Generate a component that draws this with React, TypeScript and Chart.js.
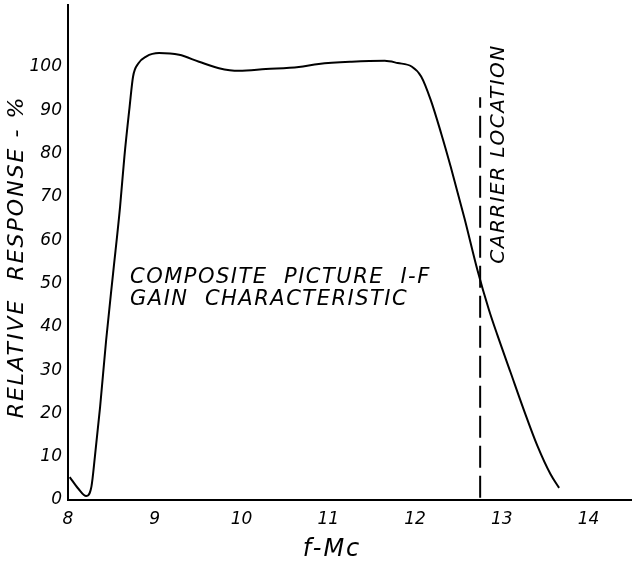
import React, { useEffect, useRef } from "react";
import { Chart, registerables } from "chart.js";

Chart.register(...registerables);

// Composite picture I-F gain characteristic (frequency in Mc, relative response in %)
const freqMc: number[] = [
  8.02, 8.12, 8.21, 8.27, 8.31, 8.37, 8.44, 8.52, 8.6, 8.65, 8.71, 8.75, 8.81,
  8.9, 9.05, 9.28, 9.51, 9.74, 9.97, 10.28, 10.66, 10.89, 11.27, 11.65, 11.8,
  11.96, 12.07, 12.18, 12.3, 12.41, 12.57, 12.72, 12.85, 12.95, 13.1, 13.25,
  13.41, 13.56, 13.66,
];
const responsePct: number[] = [
  5.3, 2.6, 0.9, 3.1, 10, 21.5, 37, 52.4, 67.7, 79.3, 90.8, 97.8, 100.8, 102.4,
  103.2, 102.8, 101.2, 99.7, 99.1, 99.5, 100, 100.7, 101.2, 101.4, 100.9, 100.1,
  97.8, 92.4, 84.7, 77, 65, 53, 44, 38, 29.5, 21, 12.5, 6, 2.8,
];
// Dashed carrier location marker
const carrierFreq: number[] = [12.75, 12.75];
const carrierLevel: number[] = [0.5, 93];

const xTicks: number[] = [8, 9, 10, 11, 12, 13, 14];
const yTicks: number[] = [0, 10, 20, 30, 40, 50, 60, 70, 80, 90, 100];

const FONT = "'DejaVu Sans', sans-serif";

const textPlugin = {
  id: "annotTexts",
  afterDraw(chart: any) {
    const ctx = chart.ctx;
    ctx.save();
    ctx.fillStyle = "#000";
    ctx.textBaseline = "middle";
    ctx.font = `italic 21px ${FONT}`;
    ctx.letterSpacing = "1.5px";
    ctx.textAlign = "left";
    ctx.fillText("COMPOSITE  PICTURE  I-F", 130, 278);
    ctx.fillText("GAIN  CHARACTERISTIC", 130, 300);
    ctx.textAlign = "center";
    ctx.font = `italic 24px ${FONT}`;
    ctx.letterSpacing = "2px";
    ctx.fillText("f-Mc", 332, 550);
    ctx.restore();

    ctx.save();
    ctx.fillStyle = "#000";
    ctx.textBaseline = "middle";
    ctx.textAlign = "center";
    ctx.font = `italic 20px ${FONT}`;
    ctx.letterSpacing = "1.5px";
    ctx.translate(499, 154);
    ctx.rotate(-Math.PI / 2);
    ctx.fillText("CARRIER LOCATION", 0, 0);
    ctx.restore();

    ctx.save();
    ctx.fillStyle = "#000";
    ctx.textBaseline = "middle";
    ctx.textAlign = "center";
    ctx.font = `italic 22px ${FONT}`;
    ctx.letterSpacing = "2px";
    ctx.translate(17, 257);
    ctx.rotate(-Math.PI / 2);
    ctx.fillText("RELATIVE  RESPONSE - %", 0, 0);
    ctx.restore();
  },
};

export default function App() {
  const ref = useRef<HTMLCanvasElement | null>(null);
  useEffect(() => {
    if (!ref.current) return;
    const curve = freqMc.map((x, i) => ({ x, y: responsePct[i] }));
    const carrier = carrierFreq.map((x, i) => ({ x, y: carrierLevel[i] }));
    const chart = new Chart(ref.current, {
      type: "line",
      data: {
        datasets: [
          {
            data: curve,
            borderColor: "#000",
            borderWidth: 2,
            pointRadius: 0,
            cubicInterpolationMode: "monotone",
            fill: false,
          },
          {
            data: carrier,
            borderColor: "#000",
            borderWidth: 2,
            borderDash: [22, 8],
            pointRadius: 0,
            fill: false,
          },
        ],
      },
      options: {
        responsive: false,
        animation: false,
        layout: { padding: { top: 5, right: 0, left: 0, bottom: 0 } },
        plugins: { legend: { display: false }, tooltip: { enabled: false } },
        scales: {
          x: {
            type: "linear",
            min: 8,
            max: 14.5,
            afterFit: (s: any) => {
              s.height = 61;
              s.paddingLeft = 0;
              s.paddingRight = 0;
              s.paddingTop = 0;
              s.paddingBottom = 0;
            },
            afterBuildTicks: (s: any) => {
              s.ticks = xTicks.map((v) => ({ value: v }));
            },
            grid: { display: false, drawTicks: false },
            border: { display: true, color: "#000", width: 2 },
            ticks: {
              padding: 9,
              color: "#000",
              font: { family: FONT, size: 17, style: "italic" },
              maxRotation: 0,
            },
          },
          y: {
            type: "linear",
            min: 0,
            max: 114.3,
            afterFit: (s: any) => {
              s.width = 68;
              s.paddingLeft = 0;
              s.paddingRight = 0;
              s.paddingTop = 0;
              s.paddingBottom = 0;
            },
            afterBuildTicks: (s: any) => {
              s.ticks = yTicks.map((v) => ({ value: v }));
            },
            grid: { display: false, drawTicks: false },
            border: { display: true, color: "#000", width: 2 },
            ticks: {
              padding: 6,
              color: "#000",
              font: { family: FONT, size: 17, style: "italic" },
            },
          },
        },
      },
      plugins: [textPlugin],
    });
    return () => chart.destroy();
  }, []);
  return (
    <div style={{ position: "absolute", left: 0, top: 0, width: 632, height: 561, background: "#fff" }}>
      <canvas ref={ref} width={632} height={561} style={{ display: "block" }} />
    </div>
  );
}
